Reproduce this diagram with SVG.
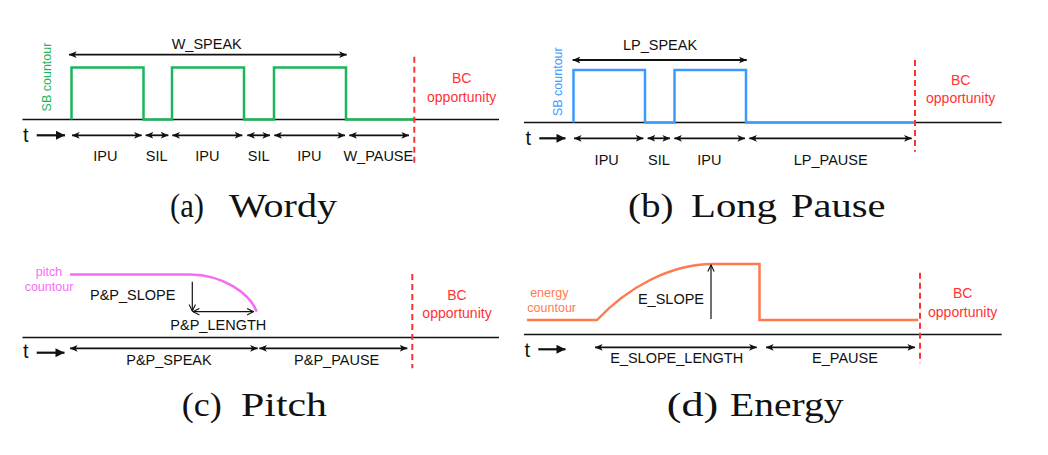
<svg xmlns="http://www.w3.org/2000/svg" width="1048" height="455" viewBox="0 0 1048 455">
<style>
.lbl{font-family:"Liberation Sans",Arial,sans-serif;font-size:14.5px;fill:#111;text-anchor:middle}
.bc{font-family:"Liberation Sans",Arial,sans-serif;font-size:14px;fill:#ff3333;text-anchor:middle}
.small{font-family:"Liberation Sans",Arial,sans-serif;font-size:12.5px;text-anchor:middle}
.t{font-family:"Liberation Sans",Arial,sans-serif;font-size:20px;fill:#111}
.cap{font-family:"Liberation Serif","Times New Roman",serif;font-size:33px;fill:#111}
.axis{stroke:#111;stroke-width:1.6;fill:none}
.dbl{stroke:#111;stroke-width:1.8;fill:none;marker-start:url(#ah);marker-end:url(#ah)}
.tarr{stroke:#111;stroke-width:2.2;fill:none;marker-end:url(#th)}
.thin{stroke:#111;stroke-width:1.2;fill:none}
.dash{stroke:#ff3333;stroke-width:2;stroke-dasharray:6 4;fill:none}
</style>
<defs>
<marker id="ah" viewBox="0 0 10 10" refX="9.5" refY="5" markerWidth="8" markerHeight="8" markerUnits="userSpaceOnUse" orient="auto-start-reverse">
<path d="M0,0.8 L10,5 L0,9.2 L2.5,5 z" fill="#111"/>
</marker>
<marker id="th" viewBox="0 0 10 10" refX="10" refY="5" markerWidth="10" markerHeight="9" markerUnits="userSpaceOnUse" orient="auto">
<path d="M0,0 L10,5 L0,10 z" fill="#111"/>
</marker>
<marker id="oh" viewBox="0 0 10 10" refX="9" refY="5" markerWidth="8" markerHeight="8" markerUnits="userSpaceOnUse" orient="auto-start-reverse">
<path d="M1,1 L9,5 L1,9" fill="none" stroke="#111" stroke-width="1.4"/>
</marker>
</defs>
<rect width="1048" height="455" fill="#fff"/>

<!-- Panel (a) Wordy -->
<g id="panel-a">
<line class="axis" x1="22.5" y1="119.5" x2="499" y2="119.5"/>
<path d="M71.5,119.5 V67.5 H143.5 V119.5 H172 V67.5 H244 V119.5 H274 V67.5 H346 V119.5 H414" fill="none" stroke="#1db55a" stroke-width="2.5"/>
<line class="dash" x1="414.3" y1="56.7" x2="414.3" y2="166.7"/>
<text class="small" fill="#1db55a" transform="translate(50.5,77) rotate(-90)">SB countour</text>
<text class="lbl" x="206.7" y="49.3">W_SPEAK</text>
<line class="dbl" x1="69" y1="54.7" x2="346.7" y2="54.7"/>
<text class="t" x="23" y="141.7">t</text>
<line class="tarr" x1="36.7" y1="135.3" x2="65" y2="135.3"/>
<g id="arrows-a">
<line class="dbl" x1="72" y1="135.3" x2="141.7" y2="135.3"/>
<line class="dbl" x1="145.7" y1="135.3" x2="168.3" y2="135.3"/>
<line class="dbl" x1="172.3" y1="135.3" x2="242.3" y2="135.3"/>
<line class="dbl" x1="247.3" y1="135.3" x2="270" y2="135.3"/>
<line class="dbl" x1="274.3" y1="135.3" x2="345" y2="135.3"/>
<line class="dbl" x1="349.3" y1="135.3" x2="409" y2="135.3"/>
</g>
<text class="lbl" x="105.3" y="161">IPU</text>
<text class="lbl" x="156.7" y="161">SIL</text>
<text class="lbl" x="207.3" y="161">IPU</text>
<text class="lbl" x="258.7" y="161">SIL</text>
<text class="lbl" x="309.3" y="161">IPU</text>
<text class="lbl" x="378.3" y="161">W_PAUSE</text>
<text class="bc" x="461.7" y="83.3">BC</text>
<text class="bc" x="461.7" y="101.7">opportunity</text>
<text class="cap" y="216.7"><tspan x="170" textLength="34" lengthAdjust="spacingAndGlyphs">(a)</tspan> <tspan x="229" textLength="108" lengthAdjust="spacingAndGlyphs">Wordy</tspan></text>
</g>

<!-- Panel (b) Long Pause -->
<g id="panel-b">
<line class="axis" x1="524" y1="122.5" x2="1001.7" y2="122.5"/>
<path d="M573.5,122.5 V70 H645 V122.5 H674.5 V70 H746 V122.5 H914" fill="none" stroke="#3d9bff" stroke-width="2.5"/>
<line class="dash" x1="915" y1="60" x2="915" y2="151.7"/>
<text class="small" fill="#3d9bff" transform="translate(561.5,81.7) rotate(-90)">SB countour</text>
<text class="lbl" x="660" y="50">LP_SPEAK</text>
<line class="dbl" x1="572.7" y1="60" x2="746.7" y2="60"/>
<text class="t" x="525.5" y="145">t</text>
<line class="tarr" x1="539.3" y1="138.3" x2="565.5" y2="138.3"/>
<g id="arrows-b">
<line class="dbl" x1="574" y1="138.3" x2="643.3" y2="138.3"/>
<line class="dbl" x1="647.7" y1="138.3" x2="670" y2="138.3"/>
<line class="dbl" x1="674.3" y1="138.3" x2="745" y2="138.3"/>
<line class="dbl" x1="749.3" y1="138.3" x2="911.7" y2="138.3"/>
</g>
<text class="lbl" x="606.7" y="165">IPU</text>
<text class="lbl" x="659" y="165">SIL</text>
<text class="lbl" x="709.3" y="165">IPU</text>
<text class="lbl" x="830.7" y="165">LP_PAUSE</text>
<text class="bc" x="960.7" y="85">BC</text>
<text class="bc" x="960.7" y="103.3">opportunity</text>
<text class="cap" y="216.7"><tspan x="628" textLength="45.5" lengthAdjust="spacingAndGlyphs">(b)</tspan> <tspan x="691" textLength="86" lengthAdjust="spacingAndGlyphs">Long</tspan> <tspan x="791" textLength="94.5" lengthAdjust="spacingAndGlyphs">Pause</tspan></text>
</g>

<!-- Panel (c) Pitch -->
<g id="panel-c">
<line class="axis" x1="22.5" y1="337.5" x2="499" y2="337.5"/>
<path d="M70,274.4 H190 C222,274.5 250,293 256.7,311.7" fill="none" stroke="#f76cf5" stroke-width="2.5"/>
<text class="small" fill="#f76cf5" x="49" y="276">pitch</text>
<text class="small" fill="#f76cf5" x="49" y="290.7">countour</text>
<text class="lbl" x="132.7" y="300">P&amp;P_SLOPE</text>
<line class="thin" x1="192.3" y1="281.7" x2="192.3" y2="311" marker-end="url(#oh)"/>
<line class="thin" x1="193" y1="311.7" x2="253.5" y2="311.7" marker-start="url(#oh)" marker-end="url(#oh)"/>
<text class="lbl" x="218.3" y="330">P&amp;P_LENGTH</text>
<line class="dash" x1="412.3" y1="274" x2="412.3" y2="368.3"/>
<text class="t" x="23" y="358.3">t</text>
<line class="tarr" x1="36.7" y1="352.7" x2="64.5" y2="352.7"/>
<g id="arrows-c">
<line class="dbl" x1="70" y1="348.3" x2="257.7" y2="348.3"/>
<line class="dbl" x1="259.3" y1="348.3" x2="407.3" y2="348.3"/>
</g>
<text class="lbl" x="169" y="365">P&amp;P_SPEAK</text>
<text class="lbl" x="336.7" y="365">P&amp;P_PAUSE</text>
<text class="bc" x="457" y="300">BC</text>
<text class="bc" x="457" y="318.3">opportunity</text>
<text class="cap" y="416"><tspan x="181.7" textLength="40" lengthAdjust="spacingAndGlyphs">(c)</tspan> <tspan x="241" textLength="86" lengthAdjust="spacingAndGlyphs">Pitch</tspan></text>
</g>

<!-- Panel (d) Energy -->
<g id="panel-d">
<line class="axis" x1="524" y1="334.5" x2="1001.7" y2="334.5"/>
<path d="M527,320 H597 C627,288 670,264 713,264 H759.5 V320 H918.3" fill="none" stroke="#ff7a50" stroke-width="2.5"/>
<text class="small" fill="#ff7a50" x="549.3" y="296.7">energy</text>
<text class="small" fill="#ff7a50" x="551.7" y="311.7">countour</text>
<text class="lbl" x="671" y="304">E_SLOPE</text>
<line class="thin" x1="711" y1="319" x2="711" y2="265" marker-end="url(#oh)"/>
<line class="dash" x1="920" y1="272.7" x2="920" y2="363.3"/>
<text class="t" x="524.5" y="356.7">t</text>
<line class="tarr" x1="538.3" y1="349.3" x2="565.5" y2="349.3"/>
<g id="arrows-d">
<line class="dbl" x1="595" y1="347.3" x2="756.7" y2="347.3"/>
<line class="dbl" x1="766" y1="347.3" x2="915" y2="347.3"/>
</g>
<text class="lbl" x="676.7" y="363.3">E_SLOPE_LENGTH</text>
<text class="lbl" x="845" y="363.3">E_PAUSE</text>
<text class="bc" x="962.7" y="298.3">BC</text>
<text class="bc" x="962.7" y="316.7">opportunity</text>
<text class="cap" y="416"><tspan x="666.7" textLength="51.5" lengthAdjust="spacingAndGlyphs">(d)</tspan> <tspan x="730" textLength="113.5" lengthAdjust="spacingAndGlyphs">Energy</tspan></text>
</g>
</svg>
